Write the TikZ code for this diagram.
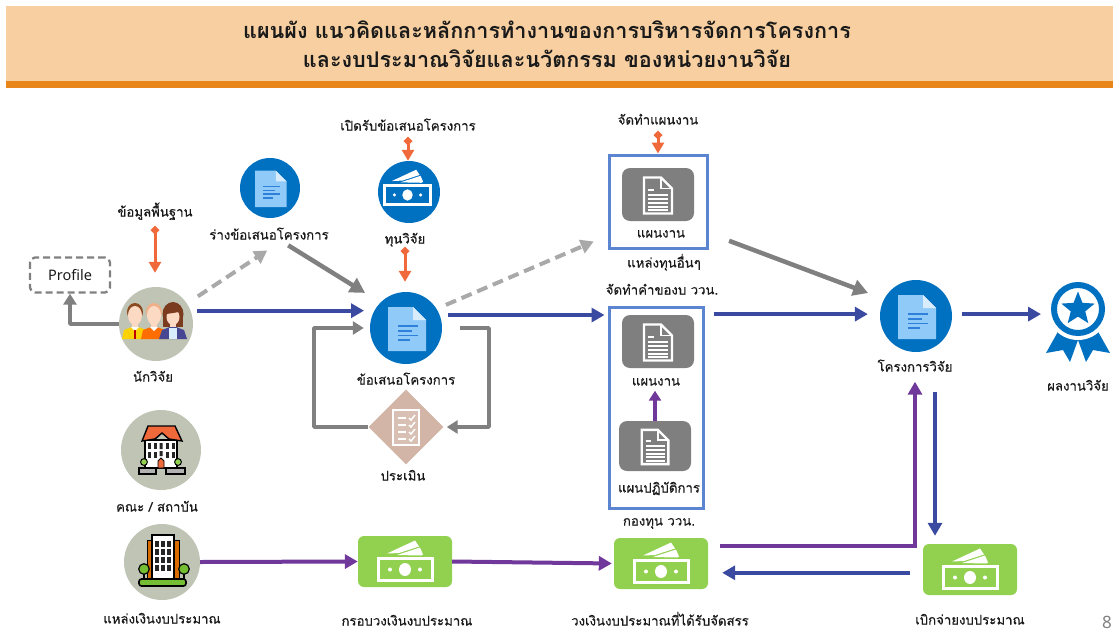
\documentclass[tikz,border=0pt]{standalone}
\usepackage{fontspec}
\newfontfamily\thaifont[Script=Thai,FakeBold=0.35]{Loma}
\newfontfamily\thaititle[Script=Thai,BoldFont={Loma Bold}]{Loma}
\newfontfamily\latfont{Noto Sans}
\usetikzlibrary{arrows.meta,shapes.geometric,calc}
\definecolor{bandc}{HTML}{F7CFA0}
\definecolor{bandline}{HTML}{E8861A}
\definecolor{navy}{HTML}{3A4AA0}
\definecolor{purp}{HTML}{70389A}
\definecolor{grayc}{HTML}{808080}
\definecolor{lgray}{HTML}{A9A9A9}
\definecolor{orng}{HTML}{F0693A}
\definecolor{bluec}{HTML}{0070C0}
\definecolor{pagec}{HTML}{90CAF9}
\definecolor{pagel}{HTML}{D8ECFC}
\definecolor{pageline}{HTML}{2F80D8}
\definecolor{sage}{HTML}{BFC4B5}
\definecolor{greenc}{HTML}{92D050}
\definecolor{diac}{HTML}{D3B5A8}
\definecolor{boxc}{HTML}{5B85D0}
\definecolor{darkgr}{HTML}{7F7F7F}
\definecolor{txt}{HTML}{1A1A1A}
\definecolor{hairb}{HTML}{8B4A20}
\definecolor{hairl}{HTML}{EFB088}
\definecolor{hairr}{HTML}{7A3B1E}
\definecolor{skin}{HTML}{FBD9C3}
\tikzset{
  x=1pt,y=-1pt,
  lbl/.style={font=\thaifont\fontsize{13.2}{16}\selectfont,text=txt,inner sep=0pt,text height=12pt,text depth=3pt},
  blueball/.style={circle,fill=bluec,inner sep=0pt,minimum size=#1},
  sageball/.style={circle,fill=sage,inner sep=0pt,minimum size=#1},
  greenbox/.style={rectangle,rounded corners=6pt,fill=greenc,inner sep=0pt,minimum width=94pt,minimum height=51pt},
  graybox/.style={rectangle,rounded corners=8pt,fill=darkgr,inner sep=0pt,minimum width=72pt,minimum height=#1},
  framebox/.style={rectangle,draw=boxc,line width=3pt,inner sep=0pt,fill=none},
  navyarr/.style={draw=navy,line width=4pt,-{Triangle[length=13pt,width=14pt]}},
  purparr/.style={draw=purp,line width=4pt,-{Triangle[length=13pt,width=14pt]}},
  grayarr/.style={draw=grayc,line width=3.5pt,line join=round,-{Triangle[length=11pt,width=13pt]}},
  thickgray/.style={draw=grayc,line width=4.5pt,-{Triangle[length=15pt,width=16pt]}},
  dasharr/.style={draw=lgray,line width=4pt,dash pattern=on 11pt off 6pt,-{Triangle[length=13pt,width=14pt]}},
  orngarr/.style={draw=orng,line width=3pt,{Diamond[length=9pt,width=9pt]}-{Triangle[length=11pt,width=12pt]}},
  pics/docicon/.style={code={
    \fill[pagec] (-18,-21) -- (7,-21) -- (20,-8) -- (20,23) -- (-18,23) -- cycle;
    \fill[pagel] (7,-21) -- (20,-8) -- (7,-8) -- cycle;
    \foreach \yy/\xe in {-2/12,3/6,7.5/12,12/4}{\draw[pageline,line width=1.5pt] (-8,\yy) -- (\xe,\yy);}
  }},
  pics/cashicon/.style={code={
    \draw[white,line width=3pt] (-27,-3) rectangle (27,19);
    \fill[white] (0,8) ellipse [x radius=6,y radius=6.5];
    \fill[white] (-15,8) circle (2) (15,8) circle (2);
    \fill[white] (-18,-8) -- (10,-21) -- (14,-15) -- (-6,-8.5) -- cycle;
    \fill[white] (-8,-6.5) -- (15,-14) -- (18,-7) -- (16,-6) -- cycle;
  }},
  pics/sheeticon/.style={code={
    \draw[white,line width=2.4pt,line join=miter] (-14,-17) -- (3,-17) -- (14,-6) -- (14,19) -- (-14,19) -- cycle;
    \draw[white,line width=1.8pt] (3,-17) -- (3,-6) -- (14,-6);
    \draw[white,line width=2pt] (-10,-5) -- (-4,-5);
    \foreach \yy in {0,4,8,12,15.5}{\draw[white,line width=2pt] (-10,\yy) -- (10,\yy);}
  }},
  pics/checkicon/.style={code={
    \fill[white,opacity=.15] (-13,-17) rectangle (13,18);
    \draw[white,line width=2.6pt] (-13,-17) rectangle (13,18);
    \foreach \yy in {-9,-2,5,12}{
      \draw[white,line width=1.5pt] (-8,\yy) -- (0,\yy);
      \draw[white,line width=1.5pt] (3,\yy) -- (5,\yy+2) -- (9,\yy-3);
    }
  }},
  pics/peopleicon/.style={code={
    % left
    \fill[hairb] (-21,-12) ellipse [x radius=8,y radius=9];
    \fill[skin] (-21,-8.5) ellipse [x radius=7,y radius=9.5];
    \fill[skin] (-24,-1) rectangle (-18,4);
    \fill[yellow!70!orange] (-34,15) -- (-32,6) -- (-24,3) -- (-18,3) -- (-9,6) -- (-7,15) -- cycle;
    \fill[white] (-25,3) -- (-17,3) -- (-21,7) -- cycle;
    \fill[red!75!black] (-22,6) rectangle (-20,15);
    % middle
    \fill[hairl] (-2,-12) ellipse [x radius=8,y radius=9];
    \fill[skin] (-2,-8.5) ellipse [x radius=7,y radius=9.5];
    \fill[skin] (-5,-1) rectangle (1,4);
    \fill[orange!85!red] (-15,15) -- (-13,6) -- (-5,3) -- (1,3) -- (9,6) -- (11,15) -- cycle;
    \fill[white] (-6,3) -- (2,3) -- (-2,7) -- cycle;
    % right
    \fill[hairr] (17,-10) ellipse [x radius=10.5,y radius=12];
    \fill[hairr] (7,-10) rectangle (27,3);
    \fill[skin] (17,-7) ellipse [x radius=6.5,y radius=8];
    \fill[hairr] (10.5,-10) -- (23,-12) -- (21,-17) -- (13,-17) -- cycle;
    \fill[skin] (14,-1) rectangle (20,4);
    \fill[blue!35!gray!85!black] (3,15) -- (6,6) -- (14,3) -- (20,3) -- (28,6) -- (31,15) -- cycle;
    \fill[pagel] (13,4) rectangle (21,15);
  }},
  pics/houseicon/.style={code={
    \fill[white,draw=black,line width=1.4pt] (-16,-10) rectangle (16,18);
    \fill[orng,draw=black,line width=1.4pt] (-19,-9) -- (-13,-24) -- (14,-24) -- (21,-9) -- (8,-11) -- (1,-17) -- (-6,-11) -- cycle;
    \foreach \xx in {-12,-6,6,12}{\foreach \yy in {-4,5}{\fill[black!85] (\xx-1.5,\yy-3) rectangle (\xx+1.5,\yy+3);}}
    \fill[black!85] (-1.5,-7) rectangle (1.5,-1) (-1.5,1) rectangle (1.5,6);
    \fill[orng,draw=black,line width=.8pt] (-3,18) -- (-3,11) -- (0,8) -- (3,11) -- (3,18) -- cycle;
    \fill[greenc,draw=black,line width=1pt] (-17,12) circle (3.4) (17,12) circle (3.4);
    \fill[gray!60,draw=black,line width=1.4pt] (-22,18) rectangle (-5,24);
    \fill[gray!60,draw=black,line width=1.4pt] (5,18) rectangle (24,24);
  }},
  pics/towericon/.style={code={
    \fill[orange!85!black,draw=black,line width=.8pt] (-15,-22) rectangle (17,17);
    \fill[white,draw=black,line width=1.2pt] (-10,-27) rectangle (12,17);
    \foreach \xx in {-5,1,7}{\foreach \yy in {-18,-10,-2,6}{\fill[black!85] (\xx-1.6,\yy-3) rectangle (\xx+1.6,\yy+3);}}
    \draw[black,line width=1.4pt] (-18,8) -- (-18,17) (22,8) -- (22,17);
    \fill[green!35!olive!80,draw=black,line width=1.2pt] (-18,7) circle (5.3) (22,7) circle (5.3);
    \fill[green!35!olive!80,draw=black,line width=1.6pt,rounded corners=2.5pt] (-23,17) rectangle (24,24);
  }}
}
\begin{document}
\begin{tikzpicture}
\useasboundingbox (0,0) rectangle (1113,632);
% header band
\fill[bandc] (6,6) rectangle (1113,81);
\fill[bandline] (6,81) rectangle (1113,88);
\node[font=\thaititle\bfseries\fontsize{21.6}{28.5}\selectfont,text=txt,align=center,inner sep=0pt] (title) at (547,44)
  {แผนผัง แนวคิดและหลักการทำงานของการบริหารจัดการโครงการ\\และงบประมาณวิจัยและนวัตกรรม ของหน่วยงานวิจัย};

% round nodes
\node[sageball=74pt] (r) at (156,324) {};
\node[blueball=60pt] (dr) at (270,188) {};
\node[blueball=62pt] (cash) at (409,192) {};
\node[blueball=72pt] (p) at (406,328) {};
\node[blueball=72pt] (q) at (916,316) {};
\node[sageball=80pt] (fac) at (161,450) {};
\node[sageball=76pt] (src) at (162,562) {};
\node[diamond,fill=diac,inner sep=0pt,minimum width=75pt,minimum height=75pt] (dia) at (406,427) {};
% boxes
\node[draw=grayc,dash pattern=on 7pt off 4pt,line width=2.3pt,rounded corners=5pt,inner sep=0pt,minimum width=80pt,minimum height=35pt,
  font=\latfont\fontsize{14.5}{16}\selectfont,text=txt] (prof) at (70,275) {Profile};
\node[framebox,minimum width=98pt,minimum height=93pt] (box1) at (658,201.5) {};
\node[framebox,minimum width=94pt,minimum height=201pt] (box2) at (656,407.5) {};
\node[graybox=53pt] (gb1) at (658,194.5) {};
\node[graybox=53pt] (gb2) at (658,341.5) {};
\node[graybox=50pt] (gb3) at (655,446) {};
\node[greenbox] (g2) at (405,561.5) {};
\node[greenbox] (g3) at (661,563.5) {};
\node[greenbox] (g4) at (970,569.5) {};
% icons
\pic[scale=.83] at (270,188) {docicon};
\pic at (406,328) {docicon};
\pic at (916,316) {docicon};
\pic[scale=.87] at (407.5,188) {cashicon};
\pic at (405,561.5) {cashicon};
\pic at (661,563.5) {cashicon};
\pic at (970,569.5) {cashicon};
\pic at (658,194.5) {sheeticon};
\pic at (658,341.5) {sheeticon};
\pic[scale=.95] at (655,446) {sheeticon};
\pic at (406,427) {checkicon};
\pic at (156,324) {peopleicon};
\pic at (161,450) {houseicon};
\pic at (162,562) {towericon};
% medal
\fill[bluec] (1060,328) -- (1046,353) -- (1063,350) -- (1070,362) -- (1078,340) -- (1086,362) -- (1093,350) -- (1110,353) -- (1096,328) -- cycle;
\fill[white] (1078,309) circle (31);
\node[circle,draw=bluec,line width=6pt,fill=white,inner sep=0pt,minimum size=48pt] (medal) at (1078,309) {};
\node[star,star points=5,star point ratio=2.3,fill=bluec,inner sep=0pt,minimum size=35pt] (mstar) at (1078,309) {};
% labels
\node[lbl] (kw) at (155,212) {ข้อมูลพื้นฐาน};
\node[lbl] (lr) at (153,377) {นักวิจัย};
\node[lbl] (dl) at (269,235) {ร่างข้อเสนอโครงการ};
\node[lbl] (op) at (408,126) {เปิดรับข้อเสนอโครงการ};
\node[lbl] (tl) at (405,239) {ทุนวิจัย};
\node[lbl] (pl) at (406,380) {ข้อเสนอโครงการ};
\node[lbl] (el) at (403,476) {ประเมิน};
\node[lbl] (wk) at (658,120) {จัดทำแผนงาน};
\node[lbl] (w1) at (661,233) {แผนงาน};
\node[lbl] (ot) at (664,263) {แหล่งทุนอื่นๆ};
\node[lbl] (rq) at (662,290) {จัดทำคำของบ ววน.};
\node[lbl] (w2) at (656,381) {แผนงาน};
\node[lbl] (w3) at (659,488) {แผนปฏิบัติการ};
\node[lbl] (fu) at (659,521) {กองทุน ววน.};
\node[lbl] (ql) at (915,367) {โครงการวิจัย};
\node[lbl] (ml) at (1078,386) {ผลงานวิจัย};
\node[lbl] (fl) at (157,507) {คณะ / สถาบัน};
\node[lbl] (sl) at (162,619) {แหล่งเงินงบประมาณ};
\node[lbl] (g2l) at (407,621) {กรอบวงเงินงบประมาณ};
\node[lbl] (g3l) at (660,621) {วงเงินงบประมาณที่ได้รับจัดสรร};
\node[lbl] (g4l) at (970,620) {เบิกจ่ายงบประมาณ};
\node[font=\latfont\fontsize{17}{18}\selectfont,text=gray,inner sep=0pt] (pg) at (1107,622) {8};
% helper coordinates
\coordinate (loopR) at (489,377);
\coordinate (loopL) at (314,377);
% connectors
\draw[grayarr] (r.west) -| (prof.south);
\draw[orngarr,shorten <=6pt,shorten >=14pt] (kw.south) -- (kw.south |- r.north);
\draw[dasharr,shorten <=13pt,shorten >=14pt] (r) -- ([xshift=10pt]dl.south);
\draw[thickgray,shorten <=5pt,shorten >=18pt] ([xshift=15pt]dl.south) -- (p.135);
\draw[navyarr,shorten <=6pt,shorten >=10pt] (r.21) -- (r.21 -| p.152);
\draw[orngarr,shorten <=3pt] (op.south) -- (op.south |- cash.north);
\draw[orngarr,shorten >=10pt] (tl.south) -- (tl.south |- p.north);
\draw[dasharr,shorten <=10pt,shorten >=15pt] (p.32) -- (box1.214);
\draw[navyarr,shorten <=8pt,shorten >=3pt] (p.21) -- (p.21 -| box2.west);
\draw[grayarr,shorten <=18pt,shorten >=3pt] (p.east) -| (loopR) |- (dia.east);
\draw[grayarr,shorten >=6pt] (dia.west) -| (loopL) |- (p.west);
\draw[thickgray,shorten <=22pt,shorten >=17pt] (box1.-32) -- (q.152);
\draw[navyarr,shorten <=9pt,shorten >=12pt] (q.177 -| box2.east) -- (q.177);
\draw[navyarr,shorten <=10pt,shorten >=10pt] (q.3) -- (q.3 -| medal.west);
\draw[purparr,line join=miter,shorten <=12pt,shorten >=7pt] (g3.20) -| (ql.south);
\draw[navyarr,shorten <=17pt,shorten >=8pt] ([xshift=20pt]ql.south) -- ([xshift=20pt]ql.south |- g4.north);
\draw[navyarr,shorten <=13pt,shorten >=14pt] (g4.184) -- (g4.184 -| g3.east);
\draw[purparr] (src.east) -- (g2.west);
\draw[purparr,shorten >=2pt] (g2.east) -- (g3.west);
\draw[purparr,line width=3.5pt,-{Triangle[length=10pt,width=12pt]},shorten >=2pt] (gb3.north) -- (gb3.north |- w2.south);
\draw[orngarr,shorten <=3pt] (wk.south) -- (wk.south |- box1.north);
\end{tikzpicture}
\end{document}
